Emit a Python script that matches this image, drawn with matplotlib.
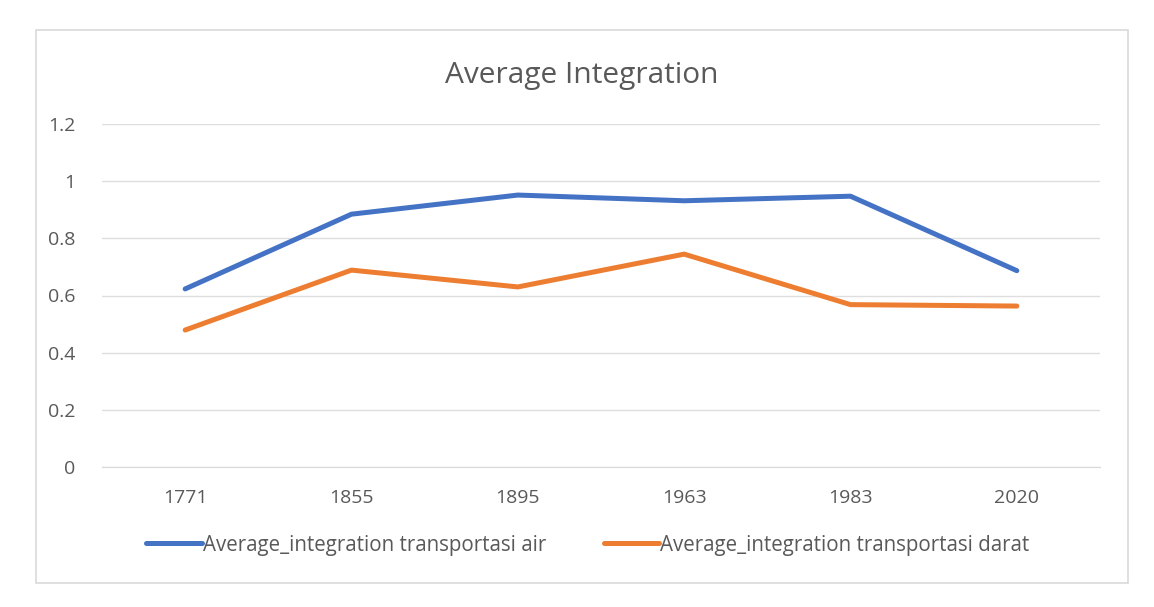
import matplotlib
matplotlib.use("Agg")
import matplotlib.pyplot as plt
from matplotlib.patches import Rectangle

plt.rcParams['font.family'] = ['Open Sans', 'DejaVu Sans']

years = ["1771", "1855", "1895", "1963", "1983", "2020"]
air = [0.623, 0.885, 0.952, 0.932, 0.948, 0.687]
darat = [0.479, 0.689, 0.630, 0.745, 0.568, 0.563]
yticks = [0, 0.2, 0.4, 0.6, 0.8, 1.0, 1.2]
ytick_labels = ["0", "0.2", "0.4", "0.6", "0.8", "1", "1.2"]

W, H = 1154, 607
fig = plt.figure(figsize=(W / 100, H / 100), dpi=100)
fig.patch.set_facecolor("white")

# outer chart border
fig.patches.append(Rectangle((36 / W, 1 - 583 / H), (1128 - 36) / W, (583 - 30) / H,
                             transform=fig.transFigure, fill=False,
                             edgecolor="#d9d9d9", linewidth=1.2))

ax = fig.add_axes([102 / W, 1 - 466.7 / H, (1100 - 102) / W, (466.7 - 124.3) / H])
x = list(range(len(years)))
l1, = ax.plot(x, air, color="#4472c4", linewidth=3.6, solid_capstyle="round",
              solid_joinstyle="round", label="Average_integration transportasi air")
l2, = ax.plot(x, darat, color="#ed7d31", linewidth=3.6, solid_capstyle="round",
              solid_joinstyle="round", label="Average_integration transportasi darat")

ax.set_xlim(-0.5, len(years) - 0.5)
ax.set_ylim(0, 1.2)
ax.set_yticks(yticks)
ax.set_yticklabels(ytick_labels)
ax.set_xticks(x)
ax.set_xticklabels(years)
ax.grid(axis="y", color="#dedede", linewidth=1)
ax.set_axisbelow(True)
for s in ["top", "right", "left"]:
    ax.spines[s].set_visible(False)
ax.spines["bottom"].set_color("#d9d9d9")
ax.tick_params(axis="both", length=0, labelsize=14, colors="#595959")
ax.tick_params(axis="x", pad=16)
ax.tick_params(axis="y", pad=19)

fig.text(582 / W, 1 - 76 / H, "Average Integration", ha="center", va="center",
         fontsize=21.5, color="#595959")

fig.legend(handles=[l1, l2], loc="center", bbox_to_anchor=(588 / W, 1 - 545 / H),
           ncol=2, frameon=False, fontsize=14.8, labelcolor="#595959",
           handlelength=2.7, handletextpad=0.05, columnspacing=2.8)

fig.savefig("out.png", dpi=100, facecolor="white")
